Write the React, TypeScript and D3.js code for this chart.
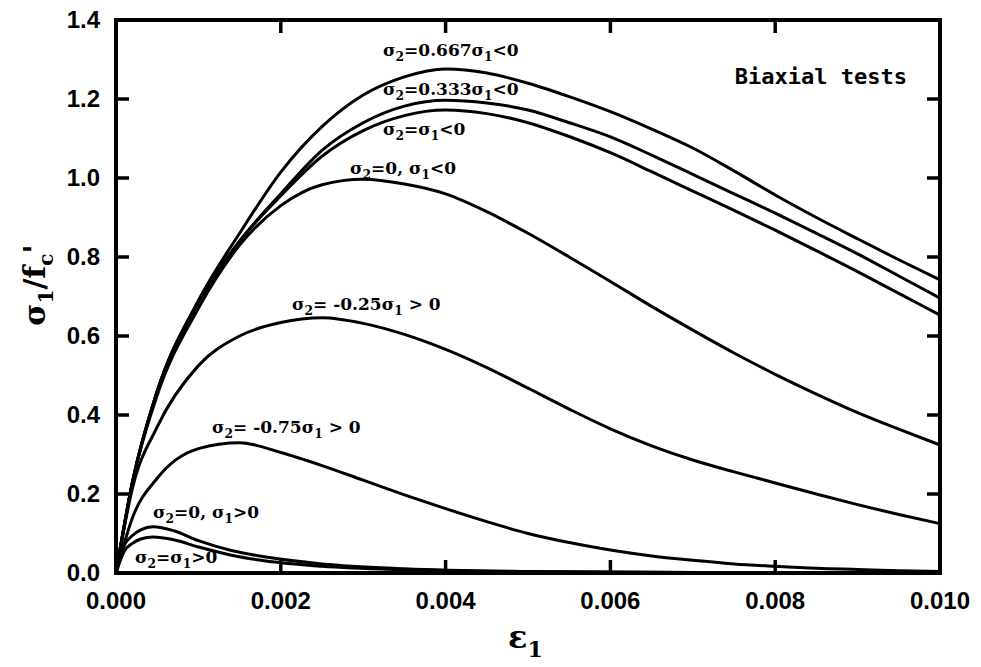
import React, { useEffect, useRef } from "react";
import * as d3 from "d3";

// strain grid shared by the upper curves
const epsMain = [0, 0.0002, 0.0005, 0.001, 0.0015, 0.002, 0.0025, 0.003, 0.0035, 0.004, 0.0045, 0.005, 0.0055, 0.006, 0.0065, 0.007, 0.0075, 0.008, 0.0085, 0.009, 0.0095, 0.01];

// sigma2 = 0.667 sigma1 < 0
const sigA = [0, 0.23, 0.46, 0.69, 0.86, 1.015, 1.13, 1.21, 1.256, 1.276, 1.266, 1.24, 1.206, 1.168, 1.124, 1.076, 1.018, 0.957, 0.9, 0.846, 0.793, 0.742];
// sigma2 = 0.333 sigma1 < 0
const sigB = [0, 0.23, 0.46, 0.685, 0.84, 0.96, 1.07, 1.14, 1.182, 1.197, 1.19, 1.172, 1.14, 1.104, 1.058, 1.009, 0.96, 0.911, 0.86, 0.808, 0.752, 0.696];
// sigma2 = sigma1 < 0
const sigC = [0, 0.23, 0.46, 0.685, 0.84, 0.955, 1.055, 1.12, 1.158, 1.172, 1.163, 1.14, 1.105, 1.064, 1.016, 0.967, 0.918, 0.868, 0.816, 0.763, 0.708, 0.653];
// sigma2 = 0, sigma1 < 0
const sigD = [0, 0.23, 0.45, 0.67, 0.83, 0.93, 0.983, 0.997, 0.985, 0.96, 0.915, 0.86, 0.8, 0.738, 0.675, 0.615, 0.557, 0.503, 0.453, 0.406, 0.364, 0.324];
// sigma2 = -0.25 sigma1 > 0
const sigE = [0, 0.215, 0.37, 0.525, 0.6, 0.634, 0.646, 0.632, 0.604, 0.566, 0.52, 0.468, 0.415, 0.365, 0.322, 0.286, 0.256, 0.228, 0.2, 0.173, 0.148, 0.125];
// sigma2 = -0.75 sigma1 > 0
const sigF = [0, 0.14, 0.24, 0.315, 0.33, 0.305, 0.272, 0.235, 0.198, 0.163, 0.13, 0.1, 0.077, 0.058, 0.043, 0.032, 0.023, 0.017, 0.012, 0.009, 0.006, 0.004];

// tension side, finer grid near the origin
const epsLow = [0, 0.0001, 0.0002, 0.0003, 0.00045, 0.0007, 0.001, 0.0014, 0.0018, 0.0025, 0.0035, 0.005, 0.007, 0.01];
// sigma2 = 0, sigma1 > 0
const sigG = [0, 0.07, 0.095, 0.109, 0.117, 0.107, 0.082, 0.057, 0.041, 0.023, 0.011, 0.004, 0.001, 0];
// sigma2 = sigma1 > 0
const sigH = [0, 0.055, 0.075, 0.086, 0.091, 0.084, 0.066, 0.045, 0.031, 0.017, 0.008, 0.003, 0.001, 0];

// label parts: [text, isSubscript]
const labelA: [string, boolean][] = [["σ", false], ["2", true], ["=0.667σ", false], ["1", true], ["<0", false]];
const labelB: [string, boolean][] = [["σ", false], ["2", true], ["=0.333σ", false], ["1", true], ["<0", false]];
const labelC: [string, boolean][] = [["σ", false], ["2", true], ["=σ", false], ["1", true], ["<0", false]];
const labelD: [string, boolean][] = [["σ", false], ["2", true], ["=0, σ", false], ["1", true], ["<0", false]];
const labelE: [string, boolean][] = [["σ", false], ["2", true], ["= -0.25σ", false], ["1", true], [" > 0", false]];
const labelF: [string, boolean][] = [["σ", false], ["2", true], ["= -0.75σ", false], ["1", true], [" > 0", false]];
const labelG: [string, boolean][] = [["σ", false], ["2", true], ["=0, σ", false], ["1", true], [">0", false]];
const labelH: [string, boolean][] = [["σ", false], ["2", true], ["=σ", false], ["1", true], [">0", false]];

const xTicks = [0, 0.002, 0.004, 0.006, 0.008, 0.01];
const yTicks = [0, 0.2, 0.4, 0.6, 0.8, 1.0, 1.2, 1.4];

const W = 981;
const H = 667;
const margin = { left: 116, right: 41, top: 20, bottom: 94 };

export default function App() {
  const ref = useRef<SVGSVGElement>(null);

  useEffect(() => {
    const svg = d3.select(ref.current);
    svg.selectAll("*").remove();

    const x = d3.scaleLinear().domain([0, 0.01]).range([margin.left, W - margin.right]);
    const y = d3.scaleLinear().domain([0, 1.4]).range([H - margin.bottom, margin.top]);
    const [x0, x1] = x.range();
    const [y0, y1] = y.range();

    const line = d3
      .line<[number, number]>()
      .x((d) => x(d[0]))
      .y((d) => y(d[1]))
      .curve(d3.curveMonotoneX);

    const curves = [
      [epsMain, sigA],
      [epsMain, sigB],
      [epsMain, sigC],
      [epsMain, sigD],
      [epsMain, sigE],
      [epsMain, sigF],
      [epsLow, sigG],
      [epsLow, sigH],
    ];

    svg
      .append("g")
      .selectAll("path")
      .data(curves)
      .join("path")
      .attr("d", (c) => line(d3.zip(c[0], c[1]) as [number, number][]))
      .attr("fill", "none")
      .attr("stroke", "#000")
      .attr("stroke-width", 3)
      .attr("stroke-linejoin", "round");

    // frame
    svg
      .append("rect")
      .attr("x", x0)
      .attr("y", y1)
      .attr("width", x1 - x0)
      .attr("height", y0 - y1)
      .attr("fill", "none")
      .attr("stroke", "#000")
      .attr("stroke-width", 4);

    // inward ticks on all four sides
    const tk = 13;
    const ticks = svg.append("g").attr("stroke", "#000").attr("stroke-width", 3.5);
    xTicks.slice(1, -1).forEach((t) => {
      ticks.append("line").attr("x1", x(t)).attr("x2", x(t)).attr("y1", y0).attr("y2", y0 - tk);
      ticks.append("line").attr("x1", x(t)).attr("x2", x(t)).attr("y1", y1).attr("y2", y1 + tk);
    });
    yTicks.slice(1, -1).forEach((t) => {
      ticks.append("line").attr("x1", x0).attr("x2", x0 + tk).attr("y1", y(t)).attr("y2", y(t));
      ticks.append("line").attr("x1", x1).attr("x2", x1 - tk).attr("y1", y(t)).attr("y2", y(t));
    });

    const tickFont = "'Liberation Sans', Arial, sans-serif";
    svg
      .append("g")
      .selectAll("text")
      .data(xTicks)
      .join("text")
      .attr("x", (d) => x(d))
      .attr("y", y0 + 36)
      .attr("text-anchor", "middle")
      .attr("font-family", tickFont)
      .attr("font-weight", "bold")
      .attr("font-size", 24)
      .text((d) => d3.format(".3f")(d));

    svg
      .append("g")
      .selectAll("text")
      .data(yTicks)
      .join("text")
      .attr("x", x0 - 16)
      .attr("y", (d) => y(d) + 8)
      .attr("text-anchor", "end")
      .attr("font-family", tickFont)
      .attr("font-weight", "bold")
      .attr("font-size", 24)
      .text((d) => d3.format(".1f")(d));

    const serif = "'DejaVu Serif', serif";

    const addLabel = (parts: [string, boolean][], lx: number, ly: number, size: number) => {
      const t = svg
        .append("text")
        .attr("x", lx)
        .attr("y", ly)
        .attr("font-family", serif)
        .attr("font-weight", "bold")
        .attr("font-size", size);
      let shifted = false;
      parts.forEach(([s, sub]) => {
        const ts = t.append("tspan").text(s);
        if (sub && !shifted) {
          ts.attr("dy", size * 0.3).attr("font-size", size * 0.72);
          shifted = true;
        } else if (!sub && shifted) {
          ts.attr("dy", -size * 0.3);
          shifted = false;
        } else if (sub) {
          ts.attr("font-size", size * 0.72);
        }
      });
    };

    addLabel(labelA, 383, 56, 17);
    addLabel(labelB, 383, 95, 17);
    addLabel(labelC, 383, 135, 17);
    addLabel(labelD, 350, 174, 17);
    addLabel(labelE, 292, 310, 17);
    addLabel(labelF, 212, 433, 17);
    addLabel(labelG, 153, 518, 17);
    addLabel(labelH, 135, 563, 17);

    svg
      .append("text")
      .attr("x", 907)
      .attr("y", 84)
      .attr("text-anchor", "end")
      .attr("font-family", "'DejaVu Sans Mono', monospace")
      .attr("font-weight", "bold")
      .attr("font-size", 22)
      .text("Biaxial tests");

    // x axis title
    const xt = svg
      .append("text")
      .attr("x", 508)
      .attr("y", 648)
      .attr("font-family", serif)
      .attr("font-weight", "bold")
      .attr("font-size", 32);
    xt.append("tspan").text("ε");
    xt.append("tspan").attr("dy", 9).attr("font-size", 22).text("1");

    // y axis title
    const yt = svg
      .append("text")
      .attr("transform", `translate(45,${285}) rotate(-90)`)
      .attr("text-anchor", "middle")
      .attr("font-family", serif)
      .attr("font-weight", "bold")
      .attr("font-size", 30);
    yt.append("tspan").text("σ");
    yt.append("tspan").attr("dy", 8).attr("font-size", 20).text("1");
    yt.append("tspan").attr("dy", -8).text("/f");
    yt.append("tspan").attr("dy", 8).attr("font-size", 20).text("c");
    yt.append("tspan").attr("dy", -8).text("'");
  }, []);

  return (
    <svg
      ref={ref}
      width={W}
      height={H}
      style={{ position: "absolute", left: 0, top: 0, background: "#fff" }}
    />
  );
}
